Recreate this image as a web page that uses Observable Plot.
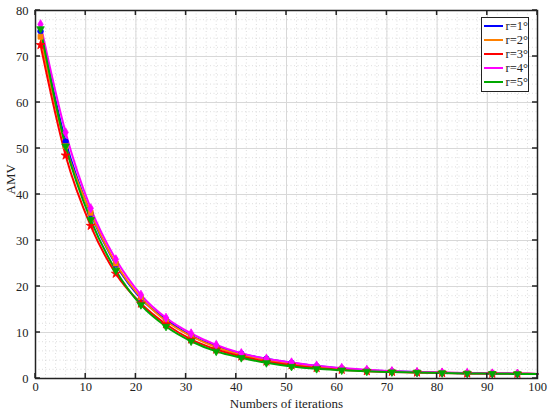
<!DOCTYPE html>
<html>
<head>
<meta charset="utf-8">
<script src="https://cdn.jsdelivr.net/npm/d3@7"></script>
<script src="https://cdn.jsdelivr.net/npm/@observablehq/plot@0.6"></script>
<style>
  body { margin: 0; background: #fff; }
  #wrap { position: relative; width: 550px; height: 414px; font-family: "Liberation Serif", "Times New Roman", serif; }
  #legend { position: absolute; left: 481px; top: 17px; width: 46px; background: #fff; border: 1px solid #222; padding: 1px 0 2px 0; }
  .row { display: flex; align-items: center; height: 14px; font-size: 12.5px; color: #222; }
  .sw { width: 19px; height: 2px; margin: 0 3px 0 2px; }
</style>
</head>
<body>
<div id="wrap"></div>
<script>
const iterations = [1, 6, 11, 16, 21, 26, 31, 36, 41, 46, 51, 56, 61, 66, 71, 76, 81, 86, 91, 96, 100];
const seriesNames = ["r=1°", "r=2°", "r=3°", "r=4°", "r=5°"];
const seriesColors = ["#0000ff", "#ff8000", "#ff0000", "#ff00ff", "#00a800"];
const seriesSymbols = ["circle", "square", "star", "diamond", "triangle"];
const seriesRotate = [0, 0, 0, 0, 180];
const r1 = [75.5, 51.5, 35.8, 24.8, 17.4, 12.8, 9.3, 7.0, 5.4, 4.3, 3.4, 2.7, 2.2, 1.8, 1.55, 1.4, 1.25, 1.15, 1.1, 1.05, 1.0];
const r2 = [74.3, 50.5, 36.0, 25.0, 17.6, 12.5, 9.2, 6.8, 5.1, 4.0, 3.1, 2.5, 2.1, 1.75, 1.5, 1.35, 1.25, 1.15, 1.08, 1.03, 1.0];
const r3 = [72.5, 48.5, 33.2, 22.8, 16.3, 11.8, 8.5, 6.3, 4.8, 3.7, 2.9, 2.3, 1.9, 1.6, 1.45, 1.3, 1.2, 1.1, 1.05, 1.02, 1.0];
const r4 = [77.0, 53.5, 37.0, 25.9, 18.2, 13.2, 9.8, 7.3, 5.5, 4.3, 3.5, 2.8, 2.3, 1.9, 1.6, 1.4, 1.3, 1.2, 1.1, 1.05, 1.0];
const r5 = [76.0, 50.5, 34.5, 23.5, 16.0, 11.3, 8.1, 5.9, 4.5, 3.4, 2.6, 2.1, 1.8, 1.55, 1.4, 1.3, 1.2, 1.1, 1.05, 1.0, 1.0];
const xTicks = [0, 10, 20, 30, 40, 50, 60, 70, 80, 90, 100];
const yTicks = [0, 10, 20, 30, 40, 50, 60, 70, 80];
const xMinor = d3.range(0, 101, 2);
const yMinor = d3.range(0, 81, 2);

const allValues = [r1, r2, r3, r4, r5];
const data = [];
allValues.forEach((vals, s) => {
  vals.forEach((v, i) => data.push({series: seriesNames[s], idx: s, x: iterations[i], y: v, marker: iterations[i] !== 100}));
});

const W = 550, H = 414, ML = 35, MR = 13, MT = 10, MB = 36;
const tickLen = 5;

const font = "Liberation Serif";
const chart = Plot.plot({
  width: W,
  height: H,
  marginLeft: ML,
  marginRight: MR,
  marginTop: MT,
  marginBottom: MB,
  style: {fontFamily: font, fontSize: "12.5px", color: "#222", background: "#fff"},
  x: {domain: [0, 100], label: null},
  y: {domain: [0, 80], label: null},
  color: {domain: seriesNames, range: seriesColors},
  symbol: {domain: seriesNames, range: seriesSymbols},
  marks: [
    Plot.ruleX(xMinor, {x: d => d, stroke: "#d4d4d4", strokeDasharray: "1,2.5", strokeWidth: 0.8}),
    Plot.ruleY(yMinor, {y: d => d, stroke: "#d4d4d4", strokeDasharray: "1,2.5", strokeWidth: 0.8}),
    Plot.ruleX(xTicks, {x: d => d, stroke: "#d8d8d8", strokeWidth: 1}),
    Plot.ruleY(yTicks, {y: d => d, stroke: "#d8d8d8", strokeWidth: 1}),
    Plot.line(data, {x: "x", y: "y", z: "series", stroke: "series", strokeWidth: 2, curve: "monotone-x"}),
    Plot.dot(data.filter(d => d.marker), {x: "x", y: "y", fill: "series", stroke: "series", symbol: "series", r: 2.8, strokeWidth: 0.8, rotate: d => seriesRotate[d.idx]}),
    Plot.frame({stroke: "#222", strokeWidth: 1.5}),
    Plot.axisX(xTicks, {tickSize: 0, tickPadding: 4, fontSize: 12.5, fontFamily: font, label: null}),
    Plot.axisY(yTicks, {tickSize: 0, tickPadding: 7, fontSize: 12.5, fontFamily: font, label: null}),
    Plot.text(["Numbers of iterations"], {frameAnchor: "bottom", dy: 29, fontSize: 13, fontFamily: font, fill: "#222"}),
    Plot.text(["AMV"], {frameAnchor: "left", dx: -25, rotate: -90, fontSize: 13, fontFamily: font, fill: "#222"})
  ]
});

// inward tick marks on all four sides, positioned through the chart's own scales
const sx = chart.scale("x"), sy = chart.scale("y");
const x0 = sx.apply(0), x1 = sx.apply(100), y0 = sy.apply(0), y1 = sy.apply(80);
const g = d3.select(chart).append("g").attr("stroke", "#222").attr("stroke-width", 1.5);
xTicks.forEach(t => {
  const px = sx.apply(t);
  g.append("line").attr("x1", px).attr("x2", px).attr("y1", y0).attr("y2", y0 - tickLen);
  g.append("line").attr("x1", px).attr("x2", px).attr("y1", y1).attr("y2", y1 + tickLen);
});
yTicks.forEach(t => {
  const py = sy.apply(t);
  g.append("line").attr("y1", py).attr("y2", py).attr("x1", x0).attr("x2", x0 + tickLen);
  g.append("line").attr("y1", py).attr("y2", py).attr("x1", x1).attr("x2", x1 - tickLen);
});

const wrap = document.getElementById("wrap");
wrap.appendChild(chart);
const legend = document.createElement("div");
legend.id = "legend";
seriesNames.forEach((name, i) => {
  const row = document.createElement("div");
  row.className = "row";
  const sw = document.createElement("span");
  sw.className = "sw";
  sw.style.background = seriesColors[i];
  const t = document.createElement("span");
  t.textContent = name;
  row.appendChild(sw);
  row.appendChild(t);
  legend.appendChild(row);
});
wrap.appendChild(legend);
</script>
</body>
</html>
